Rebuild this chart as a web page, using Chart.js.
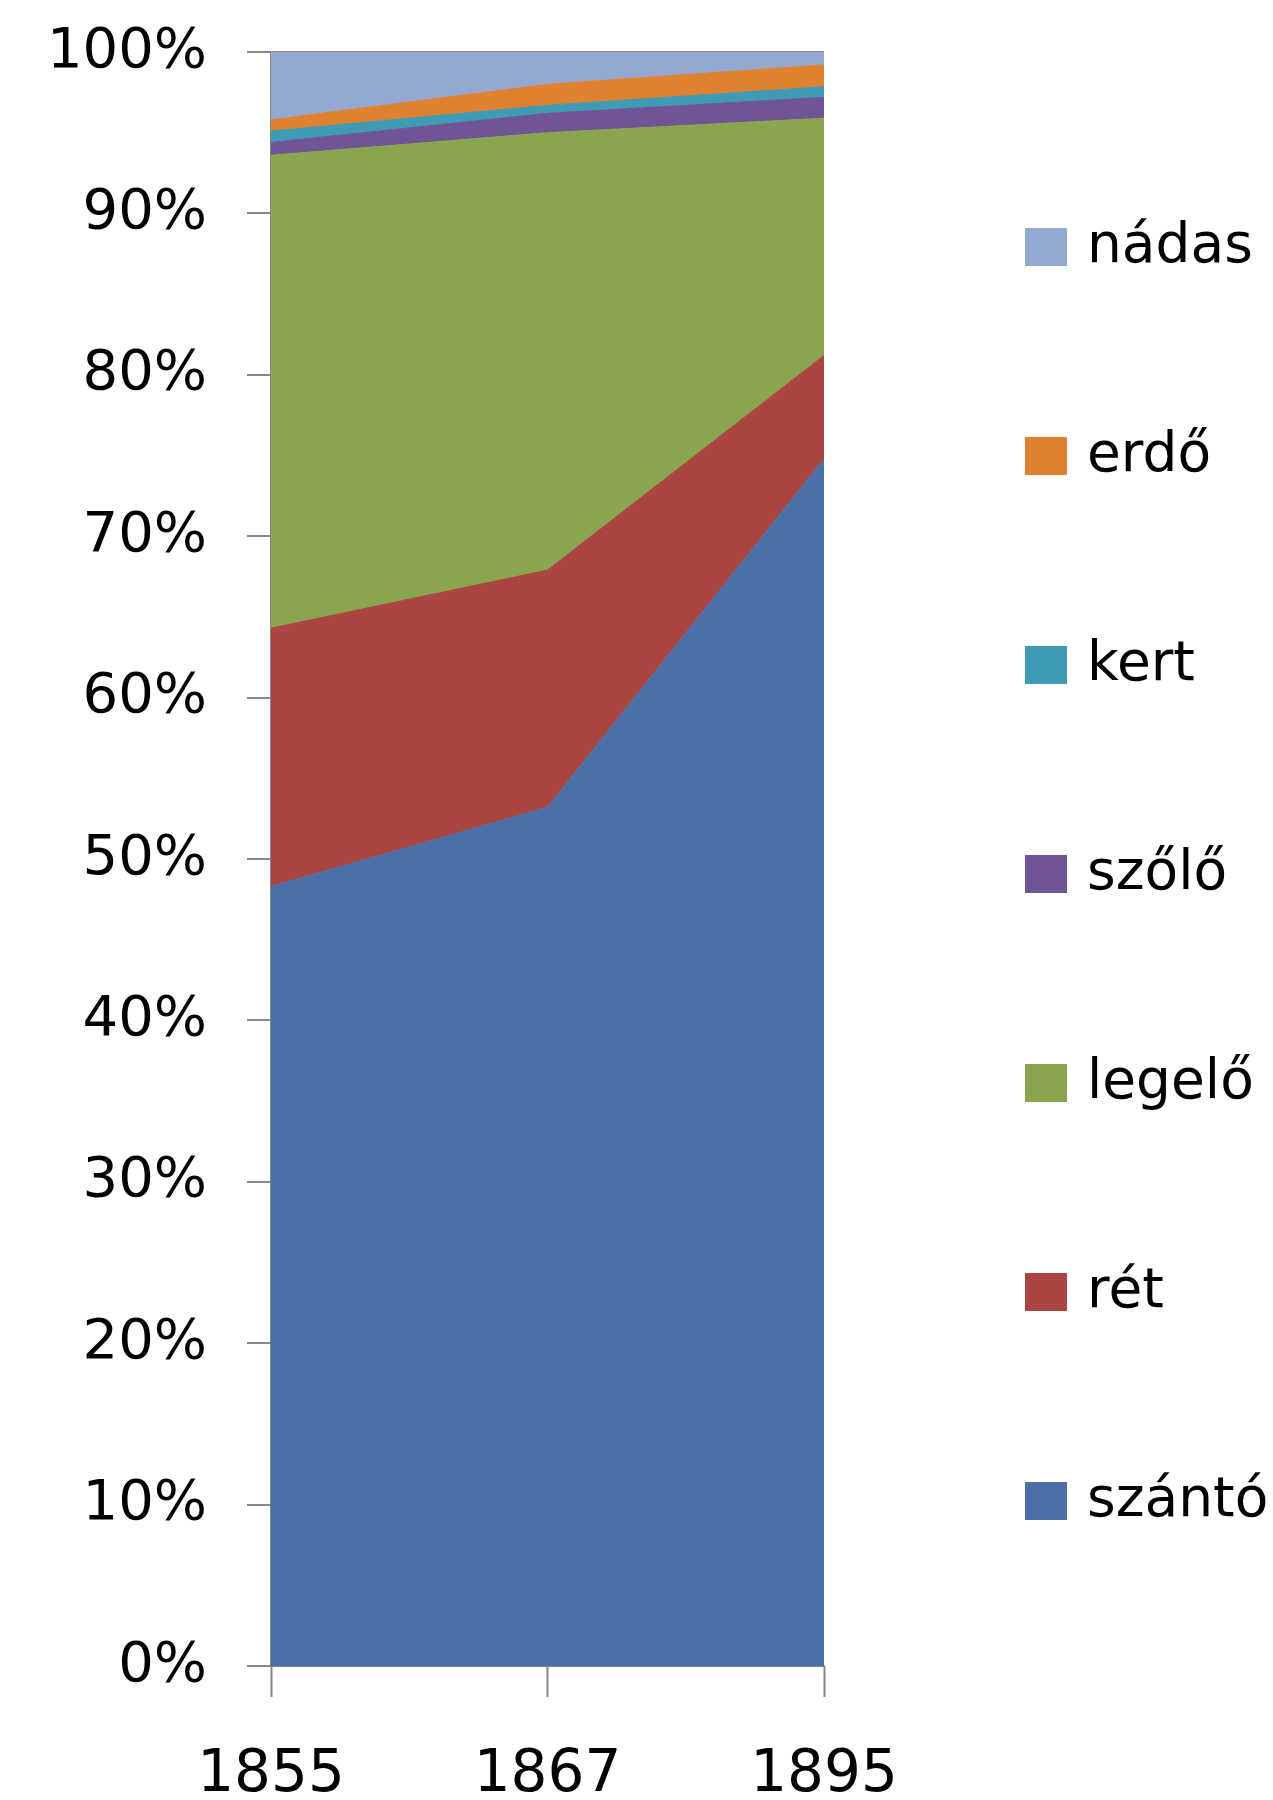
<!DOCTYPE html>
<html>
<head>
<meta charset="utf-8">
<script src="https://cdn.jsdelivr.net/npm/chart.js@4.4.1/dist/chart.umd.min.js"></script>
<style>
    body { margin: 0; background: #ffffff; }
    #wrap { position: relative; width: 1273px; height: 1800px; }
    #legend { position: absolute; left: 0; top: 0; font-family: "DejaVu Sans", sans-serif; font-size: 55px; color: #000; }
    .item { position: absolute; left: 1025px; height: 60px; line-height: 60px; white-space: nowrap; }
    .box { position: absolute; left: 0; top: 11px; width: 42px; height: 38px; }
    .lbl { position: absolute; left: 62px; top: -4px; }
</style>
</head>
<body>
<div id="wrap">
    <canvas id="area-chart" width="1273" height="1800"></canvas>
    <div id="legend"></div>
</div>
<script>
var years = ["1855", "1867", "1895"];
var szanto = [48.3, 53.2, 74.8];
var ret = [16.0, 14.7, 6.4];
var legelo = [29.3, 27.1, 14.7];
var szolo = [0.8, 1.2, 1.3];
var kert = [0.7, 0.5, 0.65];
var erdo = [0.7, 1.3, 1.35];
var nadas = [4.2, 2.0, 0.8];
var yTicks = [0, 10, 20, 30, 40, 50, 60, 70, 80, 90, 100];

var series = [
    {name: "szántó", values: szanto, color: "#4a6fa5"},
    {name: "rét", values: ret, color: "#ab4542"},
    {name: "legelő", values: legelo, color: "#89a54e"},
    {name: "szőlő", values: szolo, color: "#6f5596"},
    {name: "kert", values: kert, color: "#3f9ab3"},
    {name: "erdő", values: erdo, color: "#e0812f"},
    {name: "nádas", values: nadas, color: "#93a9d1"}
];

var axisColor = "#878787";

new Chart(document.getElementById("area-chart").getContext("2d"), {
    type: 'line',
    data: {
        labels: years,
        datasets: series.map(function (s, i) {
            return {
                label: s.name,
                data: s.values,
                backgroundColor: s.color,
                borderColor: s.color,
                borderWidth: 1,
                pointRadius: 0,
                tension: 0,
                fill: i === 0 ? 'origin' : '-1'
            };
        })
    },
    options: {
        responsive: false,
        animation: false,
        layout: {padding: {top: 52, right: 449, left: 0, bottom: 0}},
        plugins: {legend: {display: false}, tooltip: {enabled: false}},
        scales: {
            x: {
                offset: false,
                grid: {drawOnChartArea: false, tickLength: 31, tickColor: axisColor, tickWidth: 2},
                border: {color: axisColor, width: 2},
                ticks: {font: {family: "DejaVu Sans", size: 58}, color: "#000", padding: 44, maxRotation: 0},
                afterFit: function (scale) { scale.height = 134; }
            },
            y: {
                stacked: true,
                min: 0,
                max: 100,
                afterBuildTicks: function (scale) {
                    scale.ticks = yTicks.map(function (v) { return {value: v}; });
                },
                grid: {
                    color: function (ctx) { return ctx.tick && ctx.tick.value === 100 ? axisColor : 'transparent'; },
                    lineWidth: 2,
                    tickLength: 24,
                    tickColor: axisColor,
                    tickWidth: 2
                },
                border: {color: axisColor, width: 2},
                ticks: {
                    font: {family: "DejaVu Sans", size: 56},
                    color: "#000",
                    padding: 40,
                    callback: function (v) { return v + "%"; }
                },
                afterFit: function (scale) {
                    scale.width = 271;
                    scale.paddingTop = 0;
                    scale.paddingBottom = 0;
                }
            }
        }
    }
});

// legend, top entry is the last series
var legend = document.getElementById("legend");
series.slice().reverse().forEach(function (s, i) {
    var item = document.createElement("div");
    item.className = "item";
    item.style.top = (247 + i * 209 - 30) + "px";
    item.innerHTML = '<span class="box" style="background:' + s.color + '"></span><span class="lbl">' + s.name + '</span>';
    legend.appendChild(item);
});
</script>
</body>
</html>
